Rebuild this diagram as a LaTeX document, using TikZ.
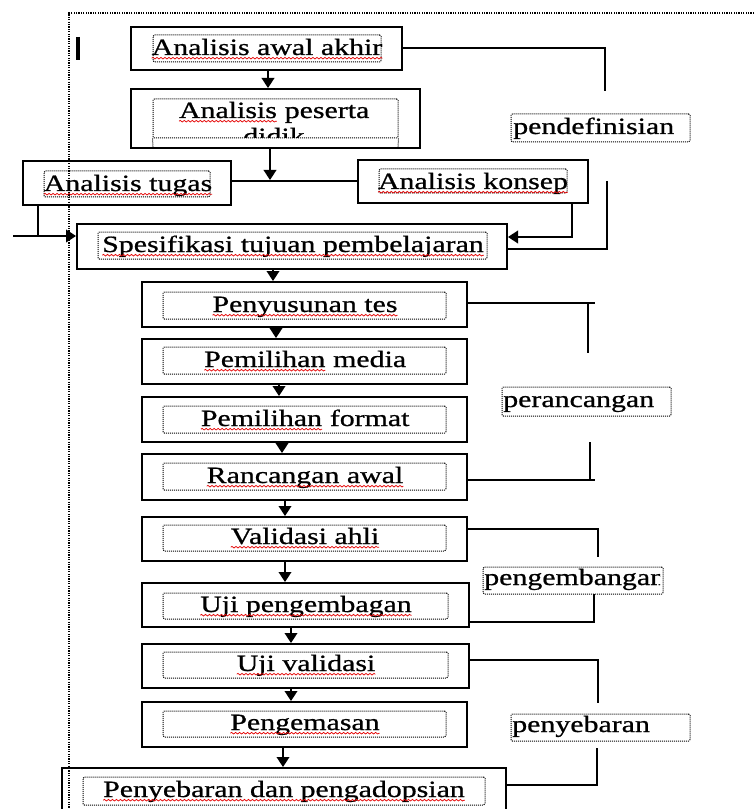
\documentclass[tikz,border=0pt]{standalone}
\usepackage{fontspec}
\setmainfont{Liberation Serif}[FakeStretch=1.28,FakeBold=0.8]
\usetikzlibrary{arrows.meta,decorations.pathmorphing,fit}
\newcommand\squig[1]{\tikz[baseline=(sq.base)]{\node[inner sep=0pt,outer sep=0pt,anchor=base,draw=none,fill=none](sq){#1};\draw[red!90!black,line width=0.55pt,dash pattern=,decorate,decoration={snake,segment length=3pt,amplitude=0.6pt}]([yshift=-2.4pt]sq.base west)--([yshift=-2.4pt]sq.base east);}}
\begin{document}
\begin{tikzpicture}[x=0.75pt,y=-0.75pt,
 box/.style={draw,line width=1.5pt,rectangle,inner sep=0pt,fit={#1}},
 dotbox/.style={draw,line width=0.75pt,dash pattern=on 0.75pt off 0.75pt,rounded corners=1pt,rectangle,inner sep=0pt,fit={#1}},
 txt/.style={inner sep=0pt,anchor=base,font=\fontsize{17.5}{20}\selectfont},
 ltxt/.style={inner sep=0pt,anchor=base west,font=\fontsize{17.5}{20}\selectfont},
 conn/.style={line width=1.2pt},
 arr/.style={conn,-{Triangle[width=9.5pt,length=7.5pt]}},
 frame/.style={line width=0.9pt,dash pattern=on 0.9pt off 0.9pt}]
\useasboundingbox (0,0) rectangle (754,809);
\clip (0,0) rectangle (754,809);
\fill[white] (0,0) rectangle (754,809);
% outer frame
\draw[frame] (754,13) -- (69,13) -- (69,809);
\draw[line width=3pt] (78,37) -- (78,60);

% boxes
\node[box={(131,27) (402,70)}] (b1) {};
\node[box={(131,89) (420,148)}] (b2) {};
\node[box={(23,161) (231,205)}] (bt) {};
\node[box={(358,160) (588,203)}] (bk) {};
\node[box={(77,224) (507,269)}] (bs) {};
\node[box={(142,282) (467,327)}] (b3) {};
\node[box={(142,339) (467,384)}] (b4) {};
\node[box={(142,397) (467,442)}] (b5) {};
\node[box={(142,454) (467,500)}] (b6) {};
\node[box={(142,517) (467,561)}] (b7) {};
\node[box={(142,583) (469,627)}] (b8) {};
\node[box={(142,644) (469,688)}] (b9) {};
\node[box={(142,702) (467,747)}] (b10) {};
\node[box={(62,768) (506,840)}] (b11) {};

% inner dotted boxes
\node[dotbox={(153,35) (381,62)}] (i1) {};
\node[dotbox={(153,99) (398,138)}] (i2) {};
\draw[line width=0.75pt,dash pattern=on 0.75pt off 0.75pt] (i2.south west) -- (153,147);
\draw[line width=0.75pt,dash pattern=on 0.75pt off 0.75pt] (i2.south east) -- (398,147);
\node[dotbox={(44,171) (210,197)}] (it) {};
\node[dotbox={(379,169) (567,193)}] (ik) {};
\node[dotbox={(98,232) (487,259)}] (is) {};
\node[dotbox={(163,292) (446,319)}] (i3) {};
\node[dotbox={(163,347) (446,374)}] (i4) {};
\node[dotbox={(163,406) (446,433)}] (i5) {};
\node[dotbox={(163,463) (446,490)}] (i6) {};
\node[dotbox={(163,525) (446,551)}] (i7) {};
\node[dotbox={(163,593) (448,619)}] (i8) {};
\node[dotbox={(163,652) (448,678)}] (i9) {};
\node[dotbox={(163,711) (446,737)}] (i10) {};
\node[dotbox={(83,777) (485,805)}] (i11) {};

% label boxes
\node[dotbox={(511,114) (690,142)}] (l1) {};
\node[dotbox={(502,387) (671,416)}] (l2) {};
\node[dotbox={(483,567) (663,594)}] (l3) {};
\node[dotbox={(511,714) (690,741)}] (l4) {};

% texts
\node[txt] (t1) at (267,55) {\squig{Analisis awal akhir}};
\node[txt] (t2a) at (274,118) {\squig{Analisis} peserta};
\begin{scope}
\clip (153,99) rectangle (398,138);
\node[txt] (t2b) at (274,144) {didik};
\end{scope}
\node[txt] (tt) at (128,191) {\squig{Analisis tugas}};
\node[txt] (tk) at (473,189) {\squig{Analisis konsep}};
\node[txt] (ts) at (293,252) {\squig{Spesifikasi tujuan pembelajaran}};
\node[txt] (t3) at (305,312) {\squig{Penyusunan tes}};
\node[txt] (t4) at (305,367) {\squig{Pemilihan} media};
\node[txt] (t5) at (305,426) {\squig{Pemilihan} format};
\node[txt] (t6) at (305,483) {\squig{Rancangan awal}};
\node[txt] (t7) at (305,544) {\squig{Validasi ahli}};
\node[txt] (t8) at (306,612) {\squig{Uji pengembagan}};
\node[txt] (t9) at (306,671) {\squig{Uji validasi}};
\node[txt] (t10) at (305,730) {\squig{Pengemasan}};
\node[txt] (t11) at (284,797) {\squig{Penyebaran dan pengadopsian}};

\node[ltxt] (lt1) at (513,134) {pendefinisian};
\node[ltxt] (lt2) at (503,407) {perancangan};
\begin{scope}
\clip (483,560) rectangle (660,600);
\node[ltxt] (lt3) at (484,585) {pengembangan};
\end{scope}
\node[ltxt] (lt4) at (512,732) {penyebaran};

% connectors top
\coordinate (j) at (270,180);
\draw[arr] (b1.south -| 268,0) -- (b2.north -| 268,0);
\draw[arr] (b2.south -| 270,0) -- (j);
\draw[conn] (bt.east |- 0,181) -- (bk.west |- 0,181);
\coordinate (lj) at (38,236);
\coordinate (lin) at (13,236);
\draw[conn] (bt.south -| lj) -- (lj);
\draw[arr] (lin) -- (bs.west |- lin);
\coordinate (rj) at (572,237);
\draw[arr] (bk.south -| rj) -- (rj) -- (bs.east |- rj);

% chain arrows
\draw[arr] (bs.south -| 273,0) -- (b3.north -| 273,0);
\draw[arr] (b3.south -| 276,0) -- (b4.north -| 276,0);
\draw[arr] (b4.south -| 279,0) -- (b5.north -| 279,0);
\draw[arr] (b5.south -| 282,0) -- (b6.north -| 282,0);
\draw[arr] (b6.south -| 285,0) -- (b7.north -| 285,0);
\draw[arr] (b7.south -| 285,0) -- (b8.north -| 285,0);
\draw[arr] (b8.south -| 291,0) -- (b9.north -| 291,0);
\draw[arr] (b9.south -| 291,0) -- (b10.north -| 291,0);
\draw[arr] (b10.south -| 283,0) -- (b11.north -| 283,0);

% brackets
\draw[conn] (b1.east |- 0,48) -- (605,48) -- (605,91);
\draw[conn] (607,181) -- (607,249) -- (bs.east |- 0,249);
\draw[conn] (b3.east |- 0,303) -- (595,303);
\draw[conn] (588,303) -- (588,353);
\draw[conn] (590,442) -- (590,480);
\draw[conn] (b6.east |- 0,480) -- (595,480);
\draw[conn] (b7.east |- 0,529) -- (598,529) -- (598,557);
\draw[conn] (594,594) -- (594,622) -- (b8.east |- 0,622);
\draw[conn] (b9.east |- 0,660) -- (598,660) -- (598,703);
\draw[conn] (597,748) -- (597,785) -- (b11.east |- 0,785);
\end{tikzpicture}
\end{document}
